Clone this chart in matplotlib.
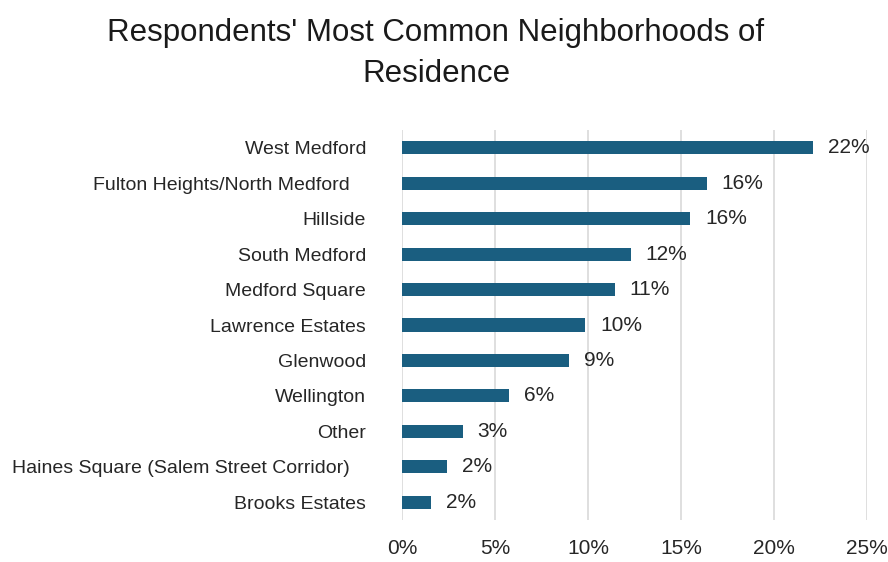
import matplotlib.pyplot as plt
import numpy as np

neighborhoods = ['West Medford', 'Fulton Heights/North Medford   ', 'Hillside', 'South Medford',
                 'Medford Square', 'Lawrence Estates', 'Glenwood', 'Wellington', 'Other',
                 'Haines Square (Salem Street Corridor)   ', 'Brooks Estates']
shares = [22.1, 16.4, 15.5, 12.3, 11.45, 9.84, 8.98, 5.75, 3.26, 2.42, 1.56]
xticks = [0, 5, 10, 15, 20, 25]

plt.rcParams['font.family'] = ['Liberation Sans', 'DejaVu Sans']

fig = plt.figure(figsize=(8.88, 5.62), dpi=100)
ax = fig.add_axes([0.453, 0.0747, 0.523, 0.694])

y = np.arange(len(neighborhoods))
ax.barh(y, shares, height=0.37, color='#1a5e80', zorder=3)
for yi, v in zip(y, shares):
    ax.text(v + 0.8, yi, '%d%%' % round(v), va='center', ha='left', fontsize=15, color='#262626')

ax.set_ylim(len(neighborhoods) - 0.5, -0.5)
ax.set_xlim(0, 25)
ax.set_yticks(y)
ax.set_yticklabels(neighborhoods, fontsize=14, color='#262626')
ax.set_xticks(xticks)
ax.set_xticklabels(['%d%%' % t for t in xticks], fontsize=15, color='#262626')
ax.tick_params(axis='both', length=0)
ax.tick_params(axis='y', pad=26)
ax.tick_params(axis='x', pad=14)
ax.grid(axis='x', color='#d9d9d9', linewidth=1.2, zorder=0)
for s in ax.spines.values():
    s.set_visible(False)

fig.text(0.491, 0.968, "Respondents' Most Common Neighborhoods of\nResidence", ha='center', va='top',
         fontsize=22.5, color='#1a1a1a', linespacing=1.5)

plt.savefig('out.png', dpi=100)
